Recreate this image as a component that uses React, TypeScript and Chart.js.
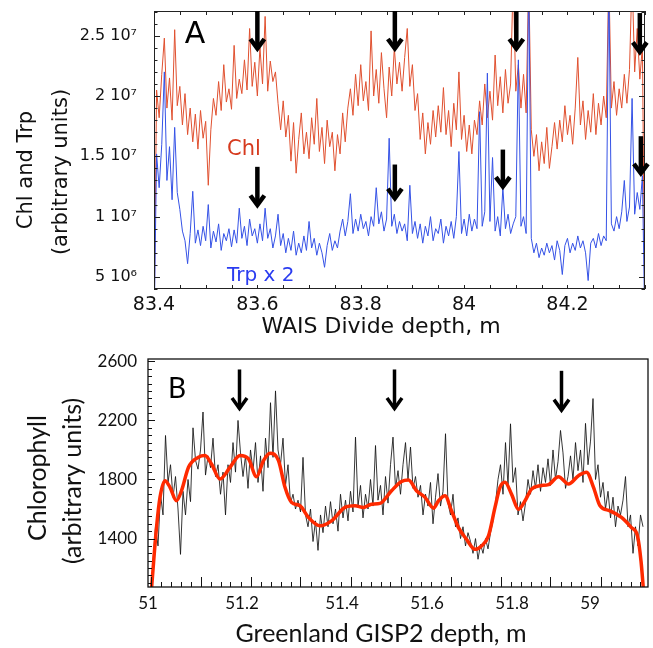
import React, { useEffect, useRef } from "react";
import { Chart, registerables } from "chart.js";
Chart.register(...registerables);

// ---------------- Panel A (WAIS Divide) ----------------
// values in units of 10^6, sampled every 0.005 m starting at 83.400 m
const A_START = 83.4;
const A_STEP = 0.005;
const chlA = [
  0,
  20.5, 18.2, 21.8, 24.8, 19.0, 21.5, 18.0, 25.5, 19.2, 20.8,
  17.6, 20.2, 16.8, 19.0, 16.2, 18.5, 15.6, 18.8, 16.5, 17.9,
  12.6, 17.2, 19.8, 18.4, 21.2, 18.8, 22.6, 19.5, 20.6, 18.9,
  24.2, 19.8, 21.4, 20.2, 23.0, 20.5, 25.6, 20.8, 22.8, 20.0,
  24.0, 21.0, 26.6, 20.4, 22.9, 21.2, 22.0, 19.4, 17.2, 19.6,
  16.6, 18.4, 14.6, 17.8, 13.6, 16.4, 18.6, 15.2, 17.0, 14.8,
  18.2, 16.0, 19.8, 15.4, 17.4, 14.4, 18.0, 15.8, 17.0, 13.8,
  16.8, 15.2, 18.6, 16.2, 19.0, 20.6, 18.4, 21.8, 19.2, 22.6,
  19.6, 21.2, 18.8, 25.4, 20.0, 22.2, 19.4, 23.6, 20.6, 18.2,
  22.4, 20.0, 24.0, 21.0, 22.8, 20.4, 23.2, 25.6, 20.8, 22.6,
  18.8, 20.2, 16.4, 18.6, 15.2, 17.8, 16.0, 18.8, 16.6, 19.2,
  17.0, 20.7, 16.8, 18.8, 15.8, 19.4, 17.2, 22.0, 16.4, 18.4,
  15.4, 17.6, 15.2, 18.0, 16.8, 19.6, 17.6, 21.0, 18.2, 20.4,
  18.0, 23.4, 19.2, 21.6, 18.6, 22.2, 19.4, 21.0, 30.0, 20.4,
  22.6, 19.0, 21.8, 18.6, 30.0, 17.2, 15.0, 16.8, 13.8, 16.2,
  14.4, 17.4, 14.0, 15.8, 17.8, 15.6, 18.0, 16.2, 19.2, 16.8,
  18.4, 16.0, 19.0, 23.2, 17.6, 19.6, 16.4, 18.8, 17.0, 20.2,
  16.8, 19.4, 17.6, 20.0, 18.2, 30.0, 19.0, 21.2, 18.4, 20.6,
  19.0, 21.8, 19.4, 22.2, 30.0, 22.0, 25.6, 21.4, 24.2, 0,
];
const trpA = [
  0,
  15.2, 12.4, 16.0, 22.0, 13.0, 15.8, 11.4, 17.4, 12.0, 10.6,
  8.8, 8.0, 6.1, 8.6, 12.1, 7.8, 8.9, 7.6, 9.2, 8.0,
  11.0, 7.4, 8.8, 7.9, 9.4, 7.2, 8.6, 8.0, 9.0, 7.5,
  8.9, 7.8, 10.7, 8.2, 9.2, 7.6, 9.8, 8.4, 9.0, 7.8,
  9.4, 8.0, 10.7, 8.2, 9.0, 7.4, 8.4, 10.2, 7.6, 8.6,
  7.0, 8.2, 7.2, 8.8, 6.8, 7.8, 7.0, 8.4, 7.2, 9.6,
  7.4, 8.2, 6.8, 7.8, 7.0, 5.8, 7.6, 8.6, 7.2, 8.0,
  7.4, 8.8, 9.8, 8.4, 9.6, 11.9, 8.6, 9.8, 8.8, 10.2,
  9.0, 9.6, 8.4, 10.0, 9.2, 12.4, 9.4, 10.4, 8.8, 9.8,
  16.5, 9.2, 10.2, 8.6, 9.6, 8.8, 9.4, 8.0, 12.6, 8.6,
  9.6, 8.2, 9.4, 7.8, 9.2, 8.4, 10.0, 8.0, 9.0, 8.6,
  9.8, 7.8, 9.2, 8.4, 9.6, 8.2, 10.0, 15.4, 8.6, 9.8,
  8.4, 10.2, 8.8, 9.8, 9.0, 18.7, 9.2, 10.4, 21.9, 9.6,
  14.9, 8.8, 10.0, 8.4, 12.4, 9.0, 10.2, 8.6, 9.4, 10.0,
  23.0, 9.2, 10.0, 8.6, 30.0, 8.2, 7.0, 7.8, 6.6, 7.4,
  6.8, 7.8, 7.0, 7.6, 6.4, 8.0, 7.2, 5.2, 7.6, 8.2,
  7.0, 7.8, 7.2, 8.4, 7.4, 8.0, 7.0, 4.7, 7.8, 8.2,
  7.4, 8.6, 7.6, 8.4, 8.0, 30.0, 9.4, 8.8, 10.0, 9.0,
  10.4, 13.0, 9.6, 10.8, 19.8, 10.2, 12.0, 10.6, 13.4, 0,
];
const A_X_TICKS = [83.4, 83.6, 83.8, 84, 84.2];
const A_Y_TICKS = [5, 10, 15, 20, 25];
const A_Y_LABELS = ["5 10\u2076", "1 10\u2077", "1.5 10\u2077", "2 10\u2077", "2.5 10\u2077"];
// arrows: [depth, top value, tip value]
const A_ARROWS = [
  [83.6, 27.05, 23.57], [83.6, 14.13, 10.59],
  [83.866, 27.05, 23.57], [83.866, 14.32, 11.15],
  [84.101, 27.05, 23.57], [84.075, 15.56, 12.12],
  [84.34, 26.88, 23.29], [84.342, 16.67, 13.22],
];
const A_X_TITLE = "WAIS Divide depth, m";
const A_Y_TITLE = ["Chl and Trp", "(arbitrary units)"];

// ---------------- Panel B (GISP2) ----------------
const B_START = 51.01;
const B_STEP = 0.005;
const chlB = [
  1250, 1480, 1350, 1700, 1560, 2098, 1780, 1900, 1680, 1820,
  1600, 1293, 1720, 1560, 1800, 1650, 2150, 1930, 1870, 2000,
  2257, 1830, 1960, 1880, 2080, 1820, 1900, 1700, 1850, 1560,
  1900, 1780, 2050, 1850, 2200, 1980, 1820, 1960, 1740, 2000,
  1860, 2050, 1780, 1960, 1720, 2080, 1880, 2320, 1950, 2400,
  2000, 1900, 2080, 1760, 1900, 1640, 1700, 1600, 1660, 1580,
  1950, 1560, 1480, 1600, 1380, 1520, 1320, 1560, 1440, 1620,
  1480, 1650, 1500, 1600, 1450, 1700, 1540, 1660, 1520, 1720,
  1580, 2087, 1620, 1760, 1540, 1700, 1600, 1800, 1620, 2030,
  1660, 1760, 1560, 1820, 1640, 1900, 2087, 1740, 1860, 1700,
  1900, 2050, 1800, 2020, 1740, 1820, 1680, 1760, 1560, 1700,
  1620, 1780, 1500, 1680, 1840, 1620, 1720, 2110, 1640, 1560,
  1700, 1480, 1540, 1400, 1480, 1350, 1440, 1380, 1300, 1400,
  1260, 1360, 1300, 1400, 1330, 1440, 1520, 1640, 1800, 1900,
  1700, 2050, 1760, 2177, 1780, 1880, 1560, 1650, 1520, 1640,
  1800, 1700, 1860, 1740, 1900, 1720, 1880, 1780, 1940, 1760,
  2000, 1800, 1920, 2132, 1980, 1740, 1820, 1960, 1800, 2050,
  1860, 2000, 1780, 2180, 1900, 2060, 2348, 1800, 1900, 1680,
  1780, 1600, 1720, 1540, 1680, 1480, 1620, 1560, 1660, 1820,
  1480, 1560, 1300, 1480, 1350, 1560, 1480,
];
const smoothDepthB = [
  51.007, 51.017, 51.024, 51.034, 51.044, 51.057, 51.067, 51.081, 51.101, 51.114,
  51.127, 51.144, 51.164, 51.184, 51.201, 51.217, 51.231, 51.244, 51.261, 51.274,
  51.287, 51.304, 51.321, 51.344, 51.367, 51.394, 51.414, 51.431, 51.447, 51.464,
  51.487, 51.507, 51.521, 51.537, 51.554, 51.571, 51.581, 51.594, 51.607, 51.621,
  51.637, 51.654, 51.667, 51.681, 51.694, 51.704, 51.714, 51.727, 51.741, 51.754,
  51.767, 51.784, 51.801, 51.821, 51.841, 51.861, 51.877, 51.891, 51.904, 51.924,
  51.947, 51.967, 51.979, 51.986, 51.991,
];
const smoothValB = [
  1060, 1474, 1679, 1792, 1747, 1656, 1724, 1883, 1951, 1962,
  1905, 1803, 1883, 1962, 1939, 1819, 1928, 1978, 1928, 1747,
  1645, 1622, 1543, 1486, 1520, 1611, 1622, 1611, 1633, 1638,
  1724, 1787, 1797, 1724, 1679, 1606, 1656, 1690, 1588, 1474,
  1395, 1327, 1350, 1418, 1611, 1747, 1781, 1701, 1599, 1656,
  1735, 1758, 1765, 1819, 1769, 1826, 1849, 1747, 1622, 1588,
  1543, 1474, 1418, 1248, 1050,
];
// label positions as printed on the original (irregular) axis
const B_X_TICK_POS = [51.0, 51.188, 51.388, 51.558, 51.728, 51.884];
const B_X_LABELS = ["51", "51.2", "51.4", "51.6", "51.8", "59"];
const B_Y_TICKS = [1400, 1800, 2200, 2600];
const B_ARROWS = [
  [51.183, 2545, 2257],
  [51.493, 2545, 2257],
  [51.827, 2536, 2246],
];
const B_X_TITLE = "Greenland GISP2 depth, m";
const B_Y_TITLE = ["Chlorophyll", "(arbitrary units)"];

const RED_A = "#e0502f";
const BLUE_A = "#3552e6";

function drawArrow(ctx: CanvasRenderingContext2D, x: number, yTop: number, yTip: number, lw: number, halfW: number, headH: number) {
  ctx.save();
  ctx.strokeStyle = "#000";
  ctx.lineWidth = lw;
  ctx.lineCap = "butt";
  ctx.beginPath();
  ctx.moveTo(x, yTop);
  ctx.lineTo(x, yTip - lw);
  ctx.stroke();
  ctx.lineJoin = "miter";
  ctx.beginPath();
  ctx.moveTo(x - halfW, yTip - headH);
  ctx.lineTo(x, yTip - lw);
  ctx.lineTo(x + halfW, yTip - headH);
  ctx.stroke();
  ctx.restore();
}

function vText(ctx: CanvasRenderingContext2D, text: string, x: number, y: number) {
  ctx.save();
  ctx.translate(x, y);
  ctx.rotate(-Math.PI / 2);
  ctx.textAlign = "center";
  ctx.textBaseline = "middle";
  ctx.fillText(text, 0, 0);
  ctx.restore();
}

function noPad(s: any) {
  s.paddingTop = 0;
  s.paddingBottom = 0;
  s.paddingLeft = 0;
  s.paddingRight = 0;
}

const decoA = {
  id: "decoA",
  afterDraw(chart: any) {
    const { ctx, chartArea: a, scales } = chart;
    const x = scales.x, y = scales.y;
    ctx.save();
    ctx.strokeStyle = "#222";
    ctx.lineWidth = 1;
    ctx.strokeRect(a.left + 0.5, a.top + 0.5, a.right - a.left - 1, a.bottom - a.top - 1);
    ctx.beginPath();
    for (let k = 0; k <= 19; k++) {
      const px = Math.round(x.getPixelForValue(83.4 + 0.05 * k)) + 0.5;
      ctx.moveTo(px, a.bottom); ctx.lineTo(px, a.bottom - 4);
      ctx.moveTo(px, a.top); ctx.lineTo(px, a.top + 4);
    }
    for (let v = 4; v <= 27; v++) {
      const py = Math.round(y.getPixelForValue(v)) + 0.5;
      const len = v % 5 === 0 ? 6 : 3.5;
      ctx.moveTo(a.left, py); ctx.lineTo(a.left + len, py);
      ctx.moveTo(a.right, py); ctx.lineTo(a.right - len, py);
    }
    ctx.stroke();
    for (const [d, t, tip] of A_ARROWS) {
      drawArrow(ctx, x.getPixelForValue(d), y.getPixelForValue(t), y.getPixelForValue(tip), 4.5, 7, 14);
    }
    ctx.fillStyle = "#000";
    ctx.font = '30px "DejaVu Sans"';
    ctx.textAlign = "center";
    ctx.textBaseline = "alphabetic";
    ctx.fillText("A", 195, 43);
    ctx.textAlign = "left";
    ctx.font = '21px "DejaVu Sans"';
    ctx.fillStyle = "#d63a1e";
    ctx.fillText("Chl", 227, 155);
    ctx.font = '20px "DejaVu Sans"';
    ctx.fillStyle = "#2a3cf0";
    ctx.fillText("Trp x 2", 227, 281);
    ctx.fillStyle = "#111";
    ctx.font = '22px "DejaVu Sans"';
    ctx.textAlign = "center";
    ctx.fillText(A_X_TITLE, 381, 333);
    ctx.font = '21px "DejaVu Sans"';
    vText(ctx, A_Y_TITLE[0], 27, 170);
    vText(ctx, A_Y_TITLE[1], 62, 172);
    ctx.restore();
  },
};

const decoB = {
  id: "decoB",
  afterDraw(chart: any) {
    const { ctx, chartArea: a, scales } = chart;
    const x = scales.x, y = scales.y;
    ctx.save();
    ctx.strokeStyle = "#111";
    ctx.lineWidth = 1.3;
    ctx.strokeRect(a.left, a.top, a.right - a.left, a.bottom - a.top);
    ctx.lineWidth = 1;
    ctx.beginPath();
    for (let k = 0; k <= 49; k++) {
      const px = Math.round(x.getPixelForValue(51.005 + 0.02 * k)) + 0.5;
      const len = k % 5 === 0 ? 10 : 5;
      ctx.moveTo(px, a.bottom); ctx.lineTo(px, a.bottom - len);
    }
    for (let v = 1100; v <= 2600; v += 50) {
      const py = Math.round(y.getPixelForValue(v)) + 0.5;
      const len = v % 400 === 200 ? 7 : 4;
      ctx.moveTo(a.left, py); ctx.lineTo(a.left + len, py);
    }
    ctx.stroke();
    for (const [d, t, tip] of B_ARROWS) {
      drawArrow(ctx, x.getPixelForValue(d), y.getPixelForValue(t), y.getPixelForValue(tip), 3.5, 7.5, 14);
    }
    ctx.fillStyle = "#000";
    ctx.font = '28px Lato';
    ctx.textAlign = "center";
    ctx.textBaseline = "alphabetic";
    ctx.fillText("B", 177, 58);
    ctx.fillStyle = "#111";
    ctx.font = '25px Lato';
    ctx.fillText(B_X_TITLE, 381, 302);
    vText(ctx, B_Y_TITLE[0], 38, 138);
    vText(ctx, B_Y_TITLE[1], 73, 141);
    ctx.restore();
  },
};

function configA(): any {
  return {
    type: "line",
    data: {
      datasets: [
        {
          label: "Trp x 2",
          data: trpA.map((v, i) => ({ x: A_START + i * A_STEP, y: v })),
          borderColor: BLUE_A, borderWidth: 1, pointRadius: 0, tension: 0, fill: false,
        },
        {
          label: "Chl",
          data: chlA.map((v, i) => ({ x: A_START + i * A_STEP, y: v })),
          borderColor: RED_A, borderWidth: 1, pointRadius: 0, tension: 0, fill: false,
        },
      ],
    },
    options: {
      responsive: false, animation: false, devicePixelRatio: 1,
      layout: { autoPadding: false, padding: { left: 0, right: 8, top: 11, bottom: 0 } },
      plugins: { legend: { display: false }, tooltip: { enabled: false } },
      scales: {
        x: {
          type: "linear", min: 83.4, max: 84.35,
          grid: { display: false, drawTicks: false }, border: { display: false },
          afterBuildTicks: (s: any) => { s.ticks = A_X_TICKS.map((v) => ({ value: v })); },
          afterFit: (s: any) => { s.height = 51; noPad(s); },
          ticks: {
            autoSkip: false, maxRotation: 0, minRotation: 0, padding: 5, color: "#111",
            font: { family: "DejaVu Sans", size: 19 },
            callback: (v: number) => String(Number(Number(v).toFixed(1))),
          },
        },
        y: {
          type: "linear", min: 4.0, max: 27.05,
          grid: { display: false, drawTicks: false }, border: { display: false },
          afterBuildTicks: (s: any) => { s.ticks = A_Y_TICKS.map((v) => ({ value: v })); },
          afterFit: (s: any) => { s.width = 154; noPad(s); },
          ticks: {
            autoSkip: false, padding: 17, color: "#111",
            font: { family: "DejaVu Sans", size: 16 },
            callback: (_v: number, i: number) => A_Y_LABELS[i],
          },
        },
      },
    },
    plugins: [decoA],
  };
}

function configB(): any {
  return {
    type: "line",
    data: {
      datasets: [
        {
          label: "Smoothed",
          data: smoothDepthB.map((d, i) => ({ x: d, y: smoothValB[i] })),
          borderColor: "#ff2a00", borderWidth: 3.5, pointRadius: 0,
          cubicInterpolationMode: "monotone", fill: false,
        },
        {
          label: "Chlorophyll",
          data: chlB.map((v, i) => ({ x: B_START + i * B_STEP, y: v })),
          borderColor: "rgba(20,20,20,0.85)", borderWidth: 1, pointRadius: 0, tension: 0, fill: false,
        },
      ],
    },
    options: {
      responsive: false, animation: false, devicePixelRatio: 1,
      layout: { autoPadding: false, padding: { left: 0, right: 5, top: 19, bottom: 0 } },
      plugins: { legend: { display: false }, tooltip: { enabled: false } },
      scales: {
        x: {
          type: "linear", min: 51.0, max: 52.0,
          grid: { display: false, drawTicks: false }, border: { display: false },
          afterBuildTicks: (s: any) => { s.ticks = B_X_TICK_POS.map((v) => ({ value: v })); },
          afterFit: (s: any) => { s.height = 61; noPad(s); },
          ticks: {
            autoSkip: false, maxRotation: 0, minRotation: 0, padding: 6, color: "#111",
            font: { family: "Lato", size: 17 },
            callback: (_v: number, i: number) => B_X_LABELS[i],
          },
        },
        y: {
          type: "linear", min: 1072, max: 2616,
          grid: { display: false, drawTicks: false }, border: { display: false },
          afterBuildTicks: (s: any) => { s.ticks = B_Y_TICKS.map((v) => ({ value: v })); },
          afterFit: (s: any) => { s.width = 148; noPad(s); },
          ticks: {
            autoSkip: false, padding: 11, color: "#111",
            font: { family: "Lato", size: 17 },
            callback: (v: number) => String(v),
          },
        },
      },
    },
    plugins: [decoB],
  };
}

function Panel({ make, width, height, top }: { make: () => any; width: number; height: number; top: number }) {
  const ref = useRef<HTMLCanvasElement | null>(null);
  useEffect(() => {
    if (!ref.current) return;
    const chart = new Chart(ref.current, make());
    return () => chart.destroy();
  }, [make]);
  return (
    <canvas
      ref={ref}
      width={width}
      height={height}
      style={{ position: "absolute", left: 0, top, width, height, display: "block" }}
    />
  );
}

export default function App() {
  return (
    <div style={{ position: "absolute", left: 0, top: 0, width: 653, height: 648, background: "#fff" }}>
      <Panel make={configA} width={653} height={340} top={0} />
      <Panel make={configB} width={653} height={308} top={340} />
    </div>
  );
}
